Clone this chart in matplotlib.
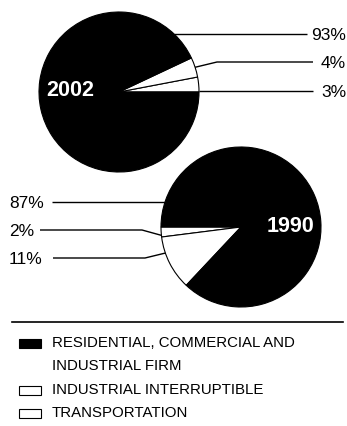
import matplotlib.pyplot as plt
from matplotlib.patches import Rectangle
import numpy as np

plt.rcParams['font.family'] = ['Liberation Sans', 'DejaVu Sans']

# Gas deliveries by customer class (percent)
classes = ['TRANSPORTATION', 'INDUSTRIAL INTERRUPTIBLE',
           'RESIDENTIAL, COMMERCIAL AND\nINDUSTRIAL FIRM']
share_2002 = [3, 4, 93]
share_1990 = [2, 11, 87]
colors = ['white', 'white', 'black']

W, H = 347, 426
fig = plt.figure(figsize=(W / 100, H / 100), dpi=100)
ax = fig.add_axes([0, 0, 1, 1])

R = 80
c2002 = (119, 334)
c1990 = (241, 199)

ax.pie(share_2002, colors=colors, startangle=0, counterclock=True,
       radius=R, center=c2002, frame=True,
       wedgeprops=dict(edgecolor='black', linewidth=0.8))
ax.pie(share_1990, colors=colors, startangle=180, counterclock=True,
       radius=R, center=c1990, frame=True,
       wedgeprops=dict(edgecolor='black', linewidth=0.8))


def edge_point(center, ang):
    a = np.radians(ang)
    return center[0] + R * np.cos(a), center[1] + R * np.sin(a)


def leader(center, ang, elbow, end, text, tx, ha):
    x0, y0 = edge_point(center, ang)
    xs = [x0] + ([elbow[0]] if elbow else []) + [end]
    ys = [y0] + ([elbow[1]] if elbow else []) + [elbow[1] if elbow else y0]
    ax.plot(xs, ys, color='black', lw=1.0, solid_capstyle='butt')
    ax.text(tx, ys[-1] - 1.5, text, ha=ha, va='center', fontsize=12.5)


# 2002 labels on the right
leader(c2002, 46.5, None, 307, f'{share_2002[2]}%', 346, 'right')
leader(c2002, 18, (217, 364), 313, f'{share_2002[1]}%', 346, 'right')
leader(c2002, 0.5, None, 313, f'{share_2002[0]}%', 346, 'right')

# 1990 labels on the left
leader(c1990, 162, None, 52, f'{share_1990[2]}%', 9, 'left')
leader(c1990, 186, (142, 196), 40, f'{share_1990[0]}%', 9, 'left')
leader(c1990, 199, (145, 168), 53, f'{share_1990[1]}%', 9, 'left')

ax.text(70, 336, '2002', color='white', fontsize=15.5, fontweight='bold',
        ha='center', va='center')
ax.text(291, 199, '1990', color='white', fontsize=15.5, fontweight='bold',
        ha='center', va='center')

# legend
ax.plot([12, 343], [104, 104], color='black', lw=1.2)
rows = [(83, 2), (36, 1), (13, 0)]
for y, i in rows:
    ax.add_patch(Rectangle((19, y - 4.5), 22, 9, facecolor=colors[i],
                           edgecolor='black', lw=0.8))
ax.text(52, 83, 'RESIDENTIAL, COMMERCIAL AND', va='center', fontsize=10.8)
ax.text(52, 60, 'INDUSTRIAL FIRM', va='center', fontsize=10.8)
ax.text(52, 36, classes[1], va='center', fontsize=10.8)
ax.text(52, 13, classes[0], va='center', fontsize=10.8)

ax.set_xlim(0, W)
ax.set_ylim(0, H)
ax.set_aspect('equal')
ax.axis('off')

plt.savefig('out.png', dpi=100)
